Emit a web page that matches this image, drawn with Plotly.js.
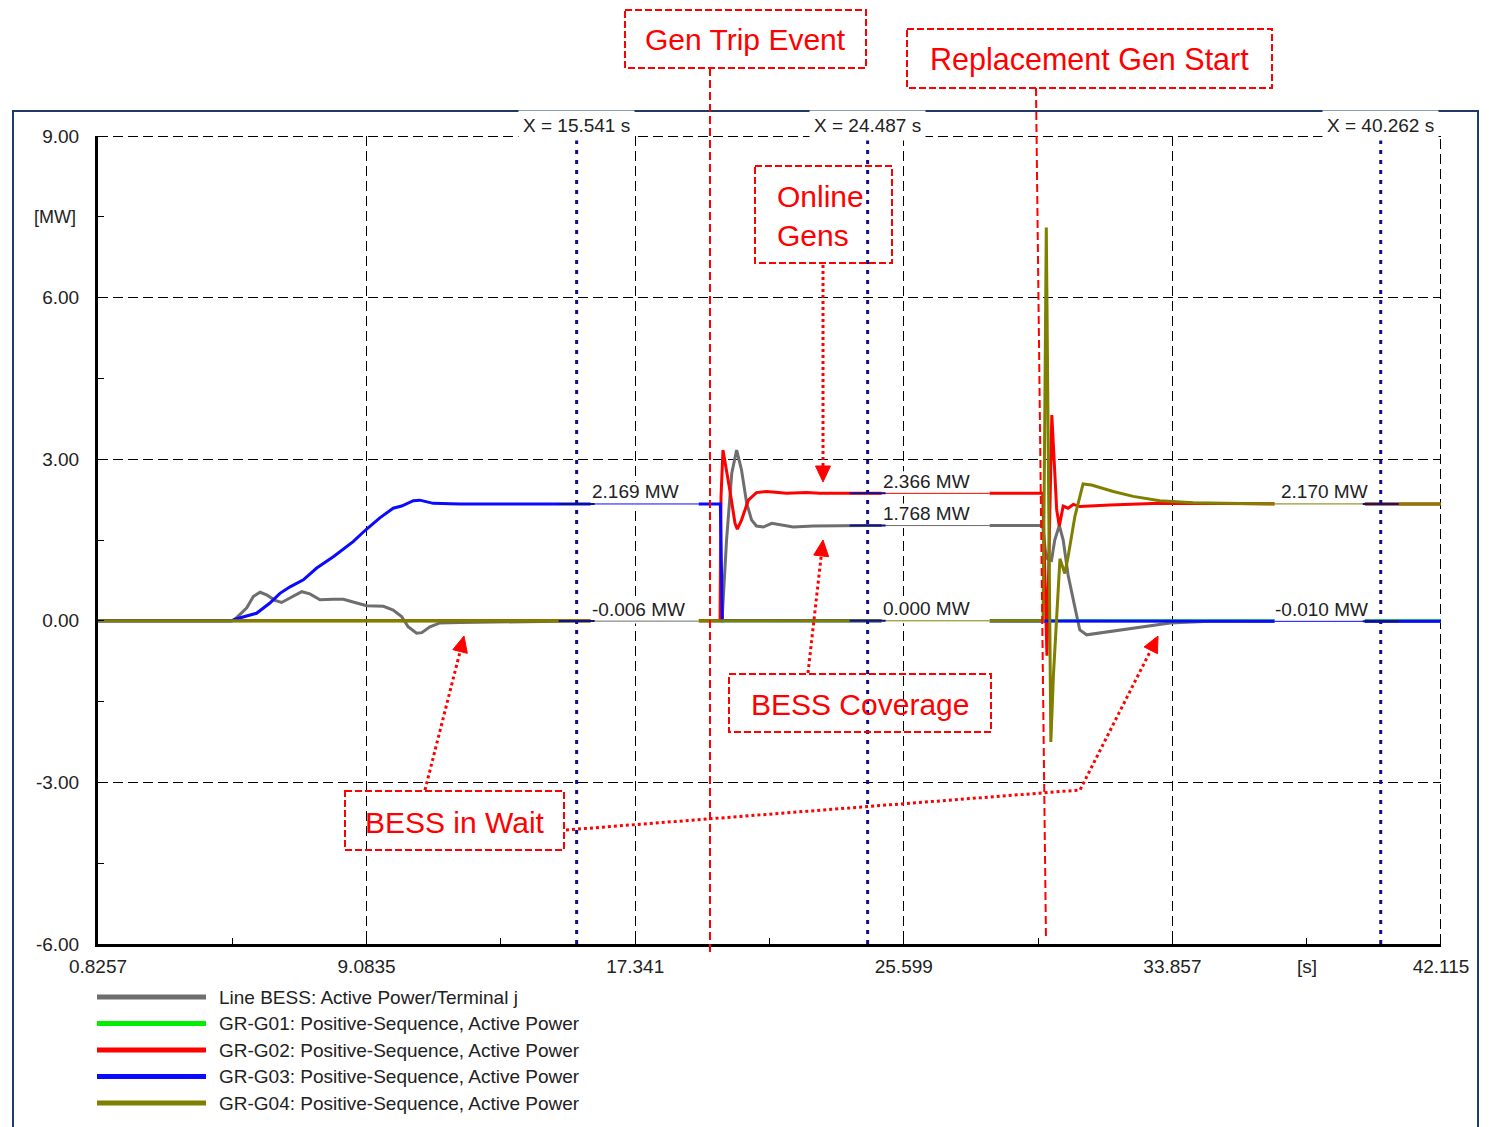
<!DOCTYPE html>
<html><head><meta charset="utf-8">
<script src="https://cdn.plot.ly/plotly-3.0.1.min.js"></script>
<style>html,body{margin:0;padding:0;background:#fff;}#chart{width:1489px;height:1127px;}</style>
</head><body><div id="chart"></div>
<script>
// ---------------- DATA ----------------
const seriesNames = [
  "Line BESS: Active Power/Terminal j",
  "GR-G01: Positive-Sequence, Active Power",
  "GR-G02: Positive-Sequence, Active Power",
  "GR-G03: Positive-Sequence, Active Power",
  "GR-G04: Positive-Sequence, Active Power"
];
const seriesColors = ["#6e6e6e", "#00ee00", "#ff0000", "#0a0aff", "#7f7f00"];

const tBess = [0.8257, 4.94, 5.04, 5.40, 5.60, 5.81, 6.01, 6.27, 6.47, 6.73, 7.09, 7.34, 7.65, 8.06, 8.37, 8.78, 9.09, 9.60, 9.90, 10.16, 10.36, 10.62, 10.78, 11.03, 11.34, 11.95, 13.5, 15.54, 19.9, 20.01, 20.15, 20.31, 20.46, 20.61, 20.77, 20.92, 21.07, 21.28, 21.54, 21.79, 22.20, 22.81, 24.49, 29.87, 29.95, 30.02, 30.14, 30.24, 30.38, 30.50, 30.65, 30.86, 31.01, 31.22, 31.94, 32.96, 33.78, 35.01, 40.26, 42.115];
const pBess = [0, 0, 0.03, 0.24, 0.45, 0.53, 0.48, 0.38, 0.34, 0.42, 0.54, 0.50, 0.39, 0.40, 0.40, 0.33, 0.28, 0.27, 0.20, 0.08, -0.11, -0.23, -0.22, -0.11, -0.04, -0.03, -0.015, -0.006, 0, 0, 1.50, 2.74, 3.17, 2.80, 2.18, 1.87, 1.76, 1.74, 1.81, 1.78, 1.74, 1.76, 1.768, 1.768, 1.30, 1.15, 1.12, 1.50, 1.77, 1.50, 0.85, 0.25, -0.17, -0.26, -0.20, -0.11, -0.04, -0.01, -0.010, -0.010];

const tG01 = [0.8257, 42.115];
const pG01 = [0, 0];

const tG02 = [0.8257, 19.95, 19.98, 20.04, 20.25, 20.41, 20.48, 20.61, 20.82, 21.07, 21.38, 22.00, 22.61, 23.02, 24.49, 29.87, 29.93, 30.00, 30.15, 30.30, 30.38, 30.50, 30.65, 30.81, 31.01, 31.94, 33.47, 36.95, 40.26, 42.115];
const pG02 = [0, 0, 2.30, 3.17, 2.43, 1.81, 1.70, 1.87, 2.24, 2.38, 2.40, 2.37, 2.38, 2.37, 2.366, 2.366, 1.00, -0.65, 3.82, 2.06, 1.76, 2.13, 2.09, 2.16, 2.12, 2.15, 2.18, 2.17, 2.170, 2.170];

const tG03 = [0.8257, 4.94, 5.04, 5.70, 6.11, 6.42, 6.73, 7.14, 7.55, 8.06, 8.67, 9.06, 9.49, 9.90, 10.16, 10.52, 10.72, 11.13, 11.95, 15.54, 19.96, 20.02, 24.49, 40.26, 42.115];
const pG03 = [0, 0, 0.03, 0.14, 0.33, 0.51, 0.63, 0.76, 0.98, 1.19, 1.47, 1.69, 1.91, 2.09, 2.13, 2.23, 2.24, 2.18, 2.17, 2.169, 2.169, 0, 0, -0.010, -0.010];

const tG04 = [0.8257, 29.88, 29.93, 29.98, 30.05, 30.12, 30.20, 30.40, 30.55, 30.65, 30.86, 31.11, 31.37, 32.04, 32.65, 33.47, 34.50, 35.52, 36.95, 40.26, 42.115];
const pG04 = [0, 0, 3.50, 7.30, 2.50, -2.25, -1.00, 1.15, 0.88, 1.19, 1.94, 2.54, 2.52, 2.40, 2.31, 2.23, 2.19, 2.18, 2.17, 2.170, 2.170];

const xTickText = ["0.8257", "9.0835", "17.341", "25.599", "33.857", "42.115"];
const yTickText = ["-6.00", "-3.00", "0.00", "3.00", "6.00", "9.00"];

const cursorTimes = [15.541, 24.487, 40.262];
const cursor1Values = [2.169, -0.006];
const cursor2Values = [2.366, 1.768, 0.000];
const cursor3Values = [2.170, -0.010];
const cursor1Series = [3, 0];
const cursor2Series = [2, 0, 4];
const cursor3Series = [4, 3];

const eventLabels = ["Gen Trip Event", "Replacement Gen Start", "Online<br>Gens", "BESS Coverage", "BESS in Wait"];

// ---------------- GEOMETRY HELPERS ----------------
const L = 98, T = 136, W = 1343, H = 808;
const FONT = "Arial, 'Liberation Sans', sans-serif";
const FS = 19;
function px(x) { return (x - L) / W; }
function py(y) { return (T + H - y) / H; }

const xTickVals = xTickText.map(Number);
const yTickVals = yTickText.map(Number);

const shapes = [];
const annotations = [];

// outer frame
shapes.push({type: "rect", xref: "paper", yref: "paper", x0: px(13), x1: px(1478), y0: py(111), y1: py(1140),
  line: {color: "#1f3a66", width: 2}, layer: "below"});
// grid lines at the range edges (top and right)
shapes.push({type: "line", xref: "paper", yref: "y", ysizemode: "pixel", yanchor: yTickVals[5],
  x0: 0, x1: 1, y0: -0.5, y1: -0.5,
  line: {color: "#000", width: 1, dash: "10px,5px"}, layer: "below"});
shapes.push({type: "line", xref: "x", yref: "paper", xsizemode: "pixel", xanchor: xTickVals[5],
  x0: -0.5, x1: -0.5, y0: 0, y1: 1,
  line: {color: "#000", width: 1, dash: "10px,5px"}, layer: "below"});

// cursor readings
const NAVY = "#10108a";
const cursorSets = [
  {t: cursorTimes[0], vals: cursor1Values, ser: cursor1Series, side: 1},
  {t: cursorTimes[1], vals: cursor2Values, ser: cursor2Series, side: 1},
  {t: cursorTimes[2], vals: cursor3Values, ser: cursor3Series, side: -1}
];
cursorSets.forEach(cs => {
  cs.vals.forEach((v, i) => {
    const col = seriesColors[cs.ser[i]];
    const a = cs.side > 0 ? 14 : -106;
    const b = cs.side > 0 ? 122 : -16;
    shapes.push({type: "rect", xref: "x", yref: "y", xsizemode: "pixel", ysizemode: "pixel",
      xanchor: cs.t, yanchor: v, x0: a, x1: b, y0: -2.5, y1: 22,
      fillcolor: "#ffffff", line: {width: 0}, layer: "above"});
    shapes.push({type: "line", xref: "x", yref: "y", xsizemode: "pixel", ysizemode: "pixel",
      xanchor: cs.t, yanchor: v, x0: a, x1: b, y0: 0, y1: 0,
      line: {color: col, width: 1}, layer: "above"});
    shapes.push({type: "line", xref: "x", yref: "y", xsizemode: "pixel",
      xanchor: cs.t, x0: -18, x1: 18, y0: v, y1: v,
      line: {color: NAVY, width: 2}, layer: "above"});
    annotations.push({xref: "x", yref: "y", x: cs.t, y: v, showarrow: false,
      text: v.toFixed(3) + " MW", xanchor: cs.side > 0 ? "left" : "right", yanchor: "middle",
      xshift: cs.side > 0 ? 13 : -11, yshift: 12,
      font: {family: FONT, size: FS, color: "#222"}});
  });
  shapes.push({type: "line", xref: "x", yref: "paper", x0: cs.t, x1: cs.t, y0: 0, y1: 1,
    line: {color: NAVY, width: 3, dash: "4px,6px"}, layer: "above"});
  annotations.push({xref: "x", yref: "paper", x: cs.t, y: 1, showarrow: false,
    text: "X = " + cs.t.toFixed(3) + " s", xanchor: "center", yanchor: "middle", yshift: 11,
    bgcolor: "#ffffff", borderpad: 4, font: {family: FONT, size: FS, color: "#222"}});
});

// axis unit labels
annotations.push({xref: "paper", yref: "y", x: 0, y: (yTickVals[4] + yTickVals[5]) / 2, showarrow: false,
  text: "[MW]", xanchor: "right", yanchor: "middle", xshift: -20, font: {family: FONT, size: 18, color: "#222"}});
annotations.push({xref: "x", yref: "paper", x: (xTickVals[4] + xTickVals[5]) / 2, y: 0, showarrow: false,
  text: "[s]", xanchor: "center", yanchor: "top", yshift: -10, font: {family: FONT, size: FS, color: "#222"}});

// legend (drawn below the plot)
seriesNames.forEach((nm, i) => {
  const yy = 997 + 26.5 * i;
  shapes.push({type: "line", xref: "paper", yref: "paper", x0: px(97), x1: px(206), y0: py(yy), y1: py(yy),
    line: {color: seriesColors[i], width: 5}, layer: "above"});
  annotations.push({xref: "paper", yref: "paper", x: px(217), y: py(yy), showarrow: false, text: nm,
    xanchor: "left", yanchor: "middle", font: {family: FONT, size: FS, color: "#222"}});
});

// red event annotations
const RED = "#ff0000";
function box(x0, y0, x1, y1) {
  shapes.push({type: "rect", xref: "paper", yref: "paper", x0: px(x0), x1: px(x1), y0: py(y0), y1: py(y1),
    line: {color: RED, width: 2, dash: "7px,3px"}, fillcolor: "rgba(0,0,0,0)", layer: "above"});
}
function label(text, x, y, anchor, size) {
  annotations.push({xref: "paper", yref: "paper", x: px(x), y: py(y), showarrow: false, text: text,
    xanchor: anchor || "center", yanchor: "middle", align: "left",
    font: {family: FONT, size: size || 30, color: RED}});
}
function vline(x0, y0, x1, y1) {
  shapes.push({type: "line", xref: "paper", yref: "paper", x0: px(x0), x1: px(x1), y0: py(y0), y1: py(y1),
    line: {color: RED, width: 2, dash: "8px,4px"}, layer: "above"});
}
function arrow(pts) {
  const n = pts.length;
  const tip = pts[n - 1], prev = pts[n - 2];
  let dx = tip[0] - prev[0], dy = tip[1] - prev[1];
  const len = Math.hypot(dx, dy); dx /= len; dy /= len;
  const hl = 16, hw = 7.5;
  const base = [tip[0] - hl * dx, tip[1] - hl * dy];
  const linePts = pts.slice(0, n - 1).concat([base]);
  shapes.push({type: "path", xref: "paper", yref: "paper",
    path: "M" + linePts.map(p => px(p[0]) + "," + py(p[1])).join("L"),
    line: {color: RED, width: 3, dash: "3px,3px"}, layer: "above"});
  const c1 = [base[0] - hw * dy, base[1] + hw * dx], c2 = [base[0] + hw * dy, base[1] - hw * dx];
  shapes.push({type: "path", xref: "paper", yref: "paper",
    path: "M" + [tip, c1, c2].map(p => px(p[0]) + "," + py(p[1])).join("L") + "Z",
    fillcolor: RED, line: {color: RED, width: 1}, layer: "above"});
}

vline(710, 68, 710, 955);
vline(1036, 88, 1046, 940);
box(625, 10, 866, 68);       label(eventLabels[0], 745.5, 40);
box(907, 29, 1272, 88);      label(eventLabels[1], 1089.5, 59, "center", 30.5);
box(755, 166, 892, 263);     label(eventLabels[2], 775, 216, "left");
box(729, 674, 991, 732);     label(eventLabels[3], 860, 704);
box(345, 791, 564, 850);     label(eventLabels[4], 455, 822);
arrow([[823, 265], [823, 482]]);
arrow([[808, 673], [823, 540]]);
arrow([[425, 790], [464, 636]]);
arrow([[566, 830], [1080, 790], [1158, 636]]);

// ---------------- TRACES ----------------
const xs = [tBess, tG01, tG02, tG03, tG04];
const ys = [pBess, pG01, pG02, pG03, pG04];
const traces = xs.map((x, i) => ({type: "scatter", mode: "lines", x: x, y: ys[i], name: seriesNames[i],
  line: {color: seriesColors[i], width: 3}, hoverinfo: "skip"}));

const axisCommon = {
  showgrid: true, gridcolor: "#000", gridwidth: 1, griddash: "10px,5px",
  showline: true, linecolor: "#000", linewidth: 3, mirror: false,
  ticks: "inside", ticklen: 6, tickcolor: "#000", tickwidth: 1,
  zeroline: false, tickfont: {family: FONT, size: FS, color: "#222"}
};

const layout = {
  width: 1489, height: 1127,
  margin: {l: L, r: 1489 - L - W, t: T, b: 1127 - T - H, autoexpand: false},
  paper_bgcolor: "#fff", plot_bgcolor: "#fff",
  font: {family: FONT, size: FS, color: "#222"},
  showlegend: false,
  xaxis: Object.assign({}, axisCommon, {
    range: [xTickVals[0], xTickVals[5]], tickmode: "array", tickvals: xTickVals, ticktext: xTickText,
    ticklabelstandoff: 3,
    minor: {ticks: "inside", ticklen: 6, tickcolor: "#000", tick0: xTickVals[0], dtick: (xTickVals[1] - xTickVals[0]) / 2, showgrid: false}
  }),
  yaxis: Object.assign({}, axisCommon, {
    range: [yTickVals[0], yTickVals[5]], tickmode: "array", tickvals: yTickVals, ticktext: yTickText,
    ticklabelstandoff: 12,
    minor: {ticks: "inside", ticklen: 6, tickcolor: "#000", tick0: yTickVals[0], dtick: (yTickVals[1] - yTickVals[0]) / 2, showgrid: false}
  }),
  shapes: shapes,
  annotations: annotations
};

Plotly.newPlot("chart", traces, layout, {staticPlot: true, displayModeBar: false});
</script></body></html>
